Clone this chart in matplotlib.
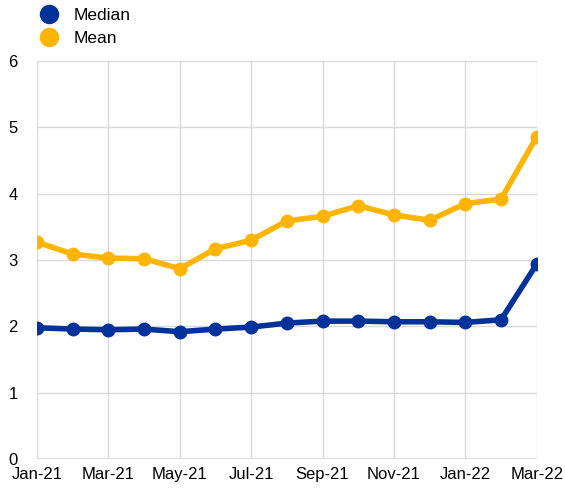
import matplotlib.pyplot as plt

months = ["Jan-21", "Feb-21", "Mar-21", "Apr-21", "May-21", "Jun-21", "Jul-21", "Aug-21",
          "Sep-21", "Oct-21", "Nov-21", "Dec-21", "Jan-22", "Feb-22", "Mar-22"]
median = [1.98, 1.96, 1.95, 1.96, 1.92, 1.96, 1.99, 2.05, 2.08, 2.08, 2.07, 2.07, 2.06, 2.10, 2.94]
mean = [3.27, 3.09, 3.03, 3.02, 2.87, 3.17, 3.30, 3.59, 3.66, 3.82, 3.68, 3.60, 3.85, 3.92, 4.86]

plt.rcParams['font.family'] = ['Liberation Sans', 'DejaVu Sans']

fig = plt.figure(figsize=(5.65, 4.9), dpi=100)
ax = fig.add_axes([0.0655, 0.063, 0.8845, 0.8125])

x = range(len(months))
ax.plot(x, median, color="#003299", lw=4, marker="o", ms=9, label="Median", zorder=3)
ax.plot(x, mean, color="#FFB400", lw=4, marker="o", ms=9, label="Mean", zorder=3)

ax.set_xlim(0, len(months) - 1)
ax.set_ylim(0, 6)
ax.set_xticks(list(x)[::2])
ax.set_xticklabels(months[::2], fontsize=12)
ax.set_yticks(range(7))
ax.tick_params(axis="y", labelsize=12, length=0, pad=14)
ax.tick_params(axis="x", length=0, pad=6)
ax.grid(True, color="#d9d9d9", lw=1)
ax.set_axisbelow(True)
for s in ax.spines.values():
    s.set_visible(False)
ax.axhline(0, color="#d9d9d9", lw=1.2, zorder=1)

handles, labels = ax.get_legend_handles_labels()
leg = fig.legend(handles, labels, loc="upper left", bbox_to_anchor=(0.047, 1.016),
                 frameon=False, fontsize=12.5, handlelength=0.8, handletextpad=1.0,
                 labelspacing=0.45)
for h in leg.legend_handles:
    h.set_linestyle("")
    h.set_markersize(13)

fig.savefig("out.png", dpi=100)
